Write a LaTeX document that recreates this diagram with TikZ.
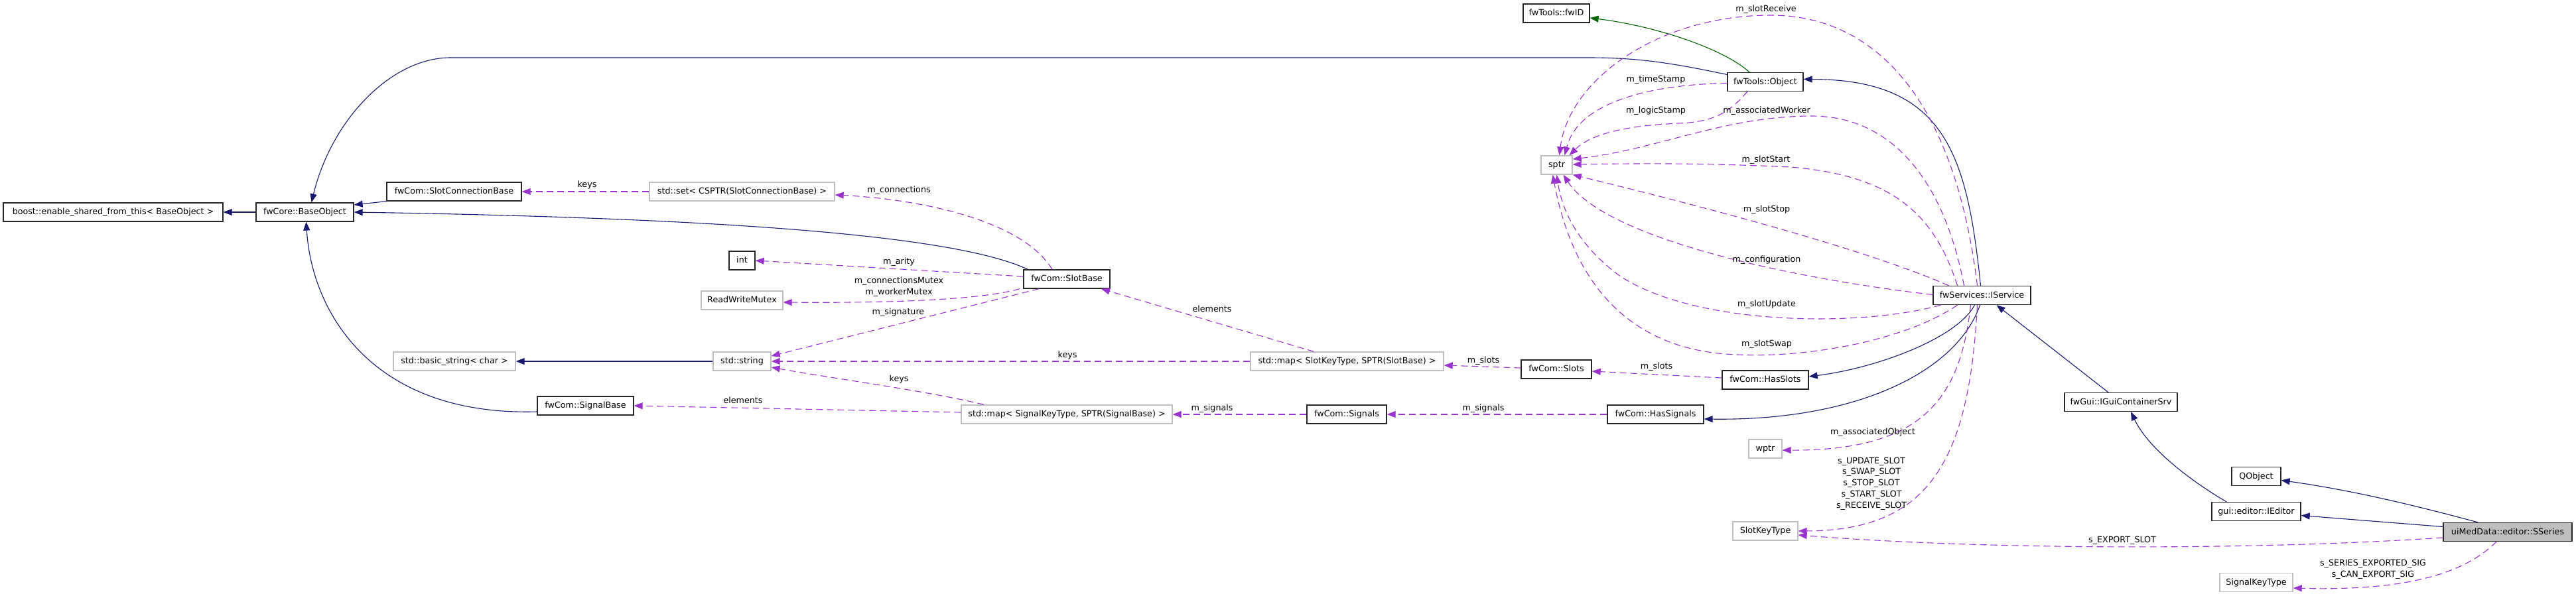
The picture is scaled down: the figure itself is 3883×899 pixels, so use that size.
\documentclass[tikz,border=0pt]{standalone}
\usepackage{fontspec}
\setmainfont{DejaVu Sans}
\usetikzlibrary{arrows.meta}
\definecolor{inhc}{HTML}{191970}
\definecolor{usec}{HTML}{9A32CD}
\definecolor{protc}{HTML}{006400}
\definecolor{greyb}{HTML}{BFBFBF}
\newcommand\fsz{\fontsize{12.7}{16.8}\selectfont}
\tikzset{
  cls/.style={draw=black!85, line width=1.3pt, minimum height=28pt, inner sep=0pt,
    text height=9.6pt, text depth=2.6pt, font=\fsz, fill=white},
  ext/.style={cls, draw=greyb},
  tip/.style={-{Triangle[length=13pt,width=10pt]}},
  inh/.style={color=inhc, line width=1.1pt, tip},
  prot/.style={color=protc, line width=1.1pt, tip},
  use/.style={color=usec, line width=1.1pt, dash pattern=on 10pt off 6pt, tip},
  lbl/.style={font=\fsz, inner sep=0pt, text height=9.6pt, text depth=2.6pt},
  mlbl/.style={font=\fsz, inner sep=0pt, align=center},
}
\begin{document}
\begin{tikzpicture}[x=1pt,y=-1pt]
\useasboundingbox (0,0) rectangle (3883,899);
\path[fill=white] (0,0) rectangle (3883,899);

% nodes
\node[cls, minimum width=331pt] (boost) at (170.5,320) {boost::enable\_shared\_from\_this< BaseObject >};
\node[cls, minimum width=147pt] (base) at (459.5,320) {fwCore::BaseObject};
\node[cls, minimum width=203pt] (sconn) at (684.5,289) {fwCom::SlotConnectionBase};
\node[ext, minimum width=279pt] (sset) at (1118.5,289) {std::set< CSPTR(SlotConnectionBase) >};
\node[cls, minimum width=39pt] (int) at (1118.5,393) {int};
\node[ext, minimum width=123pt] (rwm) at (1118.5,453) {ReadWriteMutex};
\node[cls, minimum width=130pt] (slotbase) at (1608,421) {fwCom::SlotBase};
\node[ext, minimum width=184pt] (bstr) at (685,545) {std::basic\_string< char >};
\node[ext, minimum width=87pt] (str) at (1118.5,545) {std::string};
\node[cls, minimum width=145pt] (sigbase) at (882.5,612) {fwCom::SignalBase};
\node[ext, minimum width=291pt] (mapslot) at (2030.5,545) {std::map< SlotKeyType, SPTR(SlotBase) >};
\node[ext, minimum width=318pt] (mapsig) at (1608,625) {std::map< SignalKeyType, SPTR(SignalBase) >};
\node[cls, minimum width=120pt] (signals) at (2030,625) {fwCom::Signals};
\node[cls, minimum width=106pt] (slots) at (2346,557) {fwCom::Slots};
\node[cls, minimum width=130pt] (hasslots) at (2661,573) {fwCom::HasSlots};
\node[cls, minimum width=145pt] (hassig) at (2495.5,625) {fwCom::HasSignals};
\node[cls, minimum width=100pt] (fwid) at (2346,20) {fwTools::fwID};
\node[cls, minimum width=114pt] (object) at (2661,123.5) {fwTools::Object};
\node[ext, minimum width=47pt] (sptr) at (2346.5,249) {sptr};
\node[cls, minimum width=147pt] (iservice) at (2987.5,445.5) {fwServices::IService};
\node[ext, minimum width=50pt] (wptr) at (2661,677) {wptr};
\node[ext, minimum width=98pt] (slotkey) at (2661,801) {SlotKeyType};
\node[cls, minimum width=170pt] (igui) at (3197,606.5) {fwGui::IGuiContainerSrv};
\node[cls, minimum width=74pt] (qobject) at (3401,718.5) {QObject};
\node[cls, minimum width=134pt] (ieditor) at (3401,771.5) {gui::editor::IEditor};
\node[cls, minimum width=194pt, fill=greyb] (sseries) at (3780,802.5) {uiMedData::editor::SSeries};
\node[ext, minimum width=110pt] (sigkey) at (3401,878.5) {SignalKeyType};

% inheritance (solid)
\draw[inh] (base.west) -- (boost.east);
\draw[inh] (sconn.south west) -- ([yshift=11pt]base.east);
\draw[inh] ([xshift=7pt]slotbase.north west) .. controls (1450,360) and (1150,330) .. (base.east);
\draw[inh] ([yshift=-9pt]sigbase.west) .. controls (560,628) and (470,470) .. ([xshift=2pt]base.south);
\draw[inh] ([yshift=11pt]object.west) .. controls (2520,95) and (2470,87) .. (2394,87) -- (679,87)
   .. controls (590,87) and (500,180) .. ([xshift=10pt]base.north);
\draw[prot] ([xshift=-24pt]object.north) .. controls (2600,75) and (2500,40) .. ([yshift=-7pt]fwid.east);
\draw[inh] ([xshift=-2pt]iservice.north) .. controls (2965,230) and (2930,120) .. ([yshift=4pt]object.east);
\draw[inh] ([xshift=-19pt]igui.north) -- ([xshift=22pt]iservice.south);
\draw[inh] ([xshift=-45pt]ieditor.north) .. controls (3310,730) and (3240,680) .. ([xshift=15pt]igui.south);
\draw[inh] ([xshift=-45pt]sseries.north) .. controls (3650,765) and (3550,740) .. ([yshift=-6pt]qobject.east);
\draw[inh] ([yshift=8pt]sseries.west) -- ([yshift=-6pt]ieditor.east);
\draw[inh] ([xshift=-11pt]iservice.south) .. controls (2950,510) and (2830,555) .. ([yshift=5pt]hasslots.east);
\draw[inh] ([xshift=-3pt]iservice.south) .. controls (2950,560) and (2800,635) .. ([yshift=-7pt]hassig.east);
\draw[inh] (str.west) -- (bstr.east);

% usage (dashed)
\draw[use] (sset.west) -- (sconn.east);
\node[lbl] (lkeys1) at (885,279) {keys};
\draw[use] ([xshift=-22pt]slotbase.north) .. controls (1540,330) and (1380,300) .. ([yshift=-5pt]sset.east);
\node[lbl] (lconn) at (1355,287) {m\_connections};
\draw[use] ([yshift=4pt]slotbase.west) -- (int.east);
\node[lbl] (larity) at (1355,395) {m\_arity};
\draw[use] ([xshift=-71pt]slotbase.south) .. controls (1470,455) and (1300,457) .. ([yshift=-3pt]rwm.east);
\node[mlbl] (lmutex) at (1355,433) {m\_connectionsMutex\\m\_workerMutex};
\draw[use] ([xshift=-42pt]slotbase.south) -- ([yshift=8pt]str.east);
\node[lbl] (lsig) at (1354,471) {m\_signature};
\draw[use] ([xshift=-50pt]mapslot.north) -- ([xshift=52pt]slotbase.south);
\node[lbl] (lelem1) at (1827,467) {elements};
\draw[use] (mapslot.west) -- (str.east);
\node[lbl] (lkeys2) at (1609,536) {keys};
\draw[use] ([xshift=-125pt]mapsig.north) .. controls (1400,590) and (1250,570) .. ([yshift=-9pt]str.east);
\node[lbl] (lkeys3) at (1355,572) {keys};
\draw[use] ([yshift=3pt]mapsig.west) -- (sigbase.east);
\node[lbl] (lelem2) at (1120,605) {elements};
\draw[use] (signals.west) -- (mapsig.east);
\node[lbl] (lsigs1) at (1827,616) {m\_signals};
\draw[use] ([yshift=2pt]slots.west) -- ([yshift=-6pt]mapslot.east);
\node[lbl] (lslots1) at (2236,544) {m\_slots};
\draw[use] ([yshift=3pt]hasslots.west) -- ([yshift=-3pt]slots.east);
\node[lbl] (lslots2) at (2497,553) {m\_slots};
\draw[use] (hassig.west) -- (signals.east);
\node[lbl] (lsigs2) at (2236,616) {m\_signals};

% to sptr
\draw[use] ([yshift=-2pt]object.west) .. controls (2500,127) and (2380,150) .. ([xshift=12pt]sptr.north);
\node[lbl] (lts) at (2496,120) {m\_timeStamp};
\draw[use] ([xshift=-27pt]object.south) .. controls (2610,165) and (2590,184) .. (2530,186)
   .. controls (2440,190) and (2395,205) .. ([xshift=19pt]sptr.north);
\node[lbl] (lls) at (2496,167) {m\_logicStamp};
\draw[use] ([xshift=-7pt]iservice.north) .. controls (2945,140) and (2820,23) .. (2669,23)
   .. controls (2500,23) and (2365,120) .. ([xshift=4pt]sptr.north);
\node[lbl] (lrecv) at (2662,14) {m\_slotReceive};
\draw[use] ([xshift=-27pt]iservice.north) .. controls (2930,270) and (2850,175) .. (2731,175)
   .. controls (2600,175) and (2500,225) .. ([yshift=9pt]sptr.east);
\node[lbl] (lworker) at (2663,167) {m\_associatedWorker};
\draw[use] ([xshift=-37pt]iservice.north) .. controls (2915,320) and (2850,265) .. (2700,252)
   .. controls (2550,245) and (2450,247) .. ([yshift=1pt]sptr.east);
\node[lbl] (lstart) at (2662,241) {m\_slotStart};
\draw[use] ([xshift=-50pt]iservice.north) .. controls (2800,370) and (2500,295) .. (sptr.south east);
\node[lbl] (lstop) at (2663,316) {m\_slotStop};
\draw[use] ([yshift=1pt]iservice.west) .. controls (2700,420) and (2420,360) .. ([xshift=10pt]sptr.south);
\node[lbl] (lconf) at (2663,392) {m\_configuration};
\draw[use] ([xshift=-62pt]iservice.south) .. controls (2800,495) and (2550,490) .. (2440,415)
   .. controls (2380,370) and (2355,320) .. (sptr.south);
\node[lbl] (lupd) at (2663,459) {m\_slotUpdate};
\draw[use] ([xshift=-37pt]iservice.south) .. controls (2870,515) and (2720,540) .. (2620,535)
   .. controls (2450,530) and (2370,420) .. ([xshift=-6pt]sptr.south);
\node[lbl] (lswap) at (2663,519) {m\_slotSwap};

% lower right
\draw[use] ([xshift=-17pt]iservice.south) .. controls (2955,600) and (2900,680) .. ([yshift=-2pt]wptr.east);
\node[lbl] (lassoc) at (2823,652) {m\_associatedObject};
\draw[use] ([xshift=-7pt]iservice.south) .. controls (2968,700) and (2905,800) .. (slotkey.east);
\node[mlbl] (lslotkeys) at (2821,729.5) {s\_UPDATE\_SLOT\\s\_SWAP\_SLOT\\s\_STOP\_SLOT\\s\_START\_SLOT\\s\_RECEIVE\_SLOT};
\draw[use] ([yshift=-8.5pt]sseries.west) .. controls (3400,830) and (3000,830) .. ([yshift=-6pt]slotkey.east);
\node[lbl] (lexport) at (3199,815) {s\_EXPORT\_SLOT};
\draw[use] ([xshift=-17pt]sseries.south) .. controls (3720,860) and (3640,892) .. ([yshift=-8.5pt]sigkey.east);
\node[mlbl] (lsigkeys) at (3577,859) {s\_SERIES\_EXPORTED\_SIG\\s\_CAN\_EXPORT\_SIG};
\end{tikzpicture}
\end{document}
